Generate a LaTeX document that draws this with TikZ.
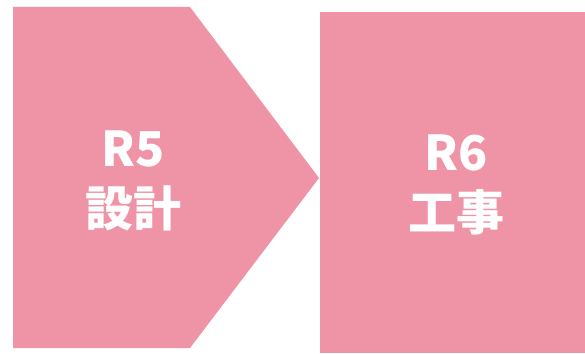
\documentclass[tikz,border=0pt]{standalone}
\usepackage{fontspec}
\setmainfont{Noto Sans CJK JP}
\definecolor{pinkfill}{RGB}{239,147,166}
\begin{document}
\begin{tikzpicture}[x=1pt,y=1pt,
  shapefill/.style={fill=pinkfill,draw=none},
  label/.style={text=white,font=\fontsize{48}{60}\selectfont\bfseries,align=center,inner sep=0pt}]
\useasboundingbox (0,0) rectangle (585,353);
\fill[shapefill] (13,346) -- (190,346) -- (319,175) -- (190,5) -- (13,5) -- cycle;
\fill[shapefill] (320,0) rectangle (585,341);
\node[label] (r5) at (133,172) {R5\\設計};
\node[label] (r6) at (456,168) {R6\\工事};
\end{tikzpicture}
\end{document}
